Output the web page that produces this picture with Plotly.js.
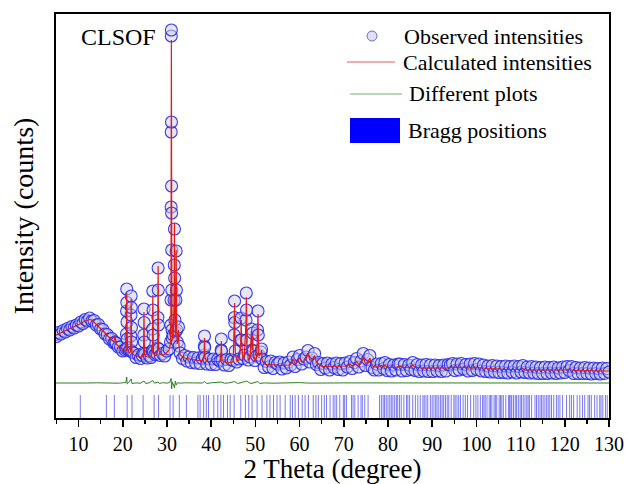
<!DOCTYPE html>
<html>
<head>
<meta charset="utf-8">
<script src="https://cdn.plot.ly/plotly-3.0.1.min.js"></script>
<style>html,body{margin:0;padding:0;background:#fff;}#chart{width:628px;height:484px;}</style>
</head>
<body>
<div id="chart"></div>
<script>
// ---- 2 theta grid shared by observed and calculated profiles ----
const twoTheta = [
  4.5,5,5.5,6,6.5,7,7.5,8,8.5,9, 9.5,10,10.5,11,11.5,12,12.5,13,13.5,14,
  14.5,15,15.5,16,16.5,17,17.5,18,18.25,18.5, 19,19.5,20,20.5,
  20.78,20.84,20.87,20.9,20.93,20.96,21.0,21.1,21.5,21.78, 21.84,21.87,21.9,21.93,21.96,22.0,22.1,
  22.5,23.0,23.5,24.0,24.4,24.7,24.75,24.8,24.84,24.88, 24.95,25.5,26.0,26.4,26.7,26.75,26.8,26.84,26.88,26.95,
  27.3,27.7,27.9,27.95,28.0,28.04,28.08,28.14,
  28.5,29.0,29.5,30.0,30.5,30.8,30.88,30.92,30.94,30.96, 30.98,31.0,31.02,31.04,31.06,31.08,31.1,31.14,31.2,31.4,
  31.6,31.66,31.7,31.74,31.8,31.9,32.02,32.08,32.14,32.2, 32.35,32.6,32.75,
  33.0,33.5,34.0,34.5,35.0,35.5,36.0,36.5,37.0,37.5, 38.0,
  38.4,38.45,38.5,38.55,38.62,39.0,39.5,40.0,40.5,41.0, 41.5,42.0,42.25,42.3,42.35,42.45,43.0,43.5,44.0,44.5, 45.0,
  45.2,45.25,45.3,45.35,45.45,45.8,46.3,46.7,46.8,46.87, 47.2,47.5,47.9,47.95,48.0,48.07,48.4,48.8,49.1,49.25,
  49.4,49.5,49.9,50.3,50.5,50.6,50.67,50.8,51.3,51.4, 51.5,
  52.0,52.5,53.0,53.5,54.0,54.5,55.0,55.5,56.0,56.5, 57.0,57.5,58.0,58.5,59.0,59.5,60.0,60.5,61.0,61.5,
  61.9,62.3,62.8,63.4,63.8,64.3,
  64.8,65.3,65.8,66.3,66.8,67.3,67.8,68.3,68.8,69.3, 69.8,70.3,70.8,71.4,71.9,72.4,72.9,73.4,73.9,74.4,
  74.9,75.4,75.9,76.4,76.9,77.4,77.9,78.5,79.0,79.3, 79.8,80.3,80.8,81.3,81.8,82.3,82.7,83.2,83.7,84.2,
  84.7,85.2,85.6,86.1,86.6,87.1,87.6,88.1,88.6,89.1, 89.6,90.1,90.6,91.1,91.6,92.1,92.6,93.1,93.6,
  94.1,94.6,95.1,95.6,96.1,96.6,97.1,97.6,98.1,98.6, 99.1,99.6,100.1,100.6,101.1,101.6,102.1,102.6,103.1,103.6,
  104.1,104.6,105.1,105.6,106.1,106.6,107.1,107.6,108.1,108.6, 109.1,109.6,110.1,110.5,111.0,111.5,112.0,112.5,113.0,113.5,
  114.0,114.5,115.0,115.5,116.0,116.5,117.0,117.5,118.0,118.5, 119.0,119.5,120.0,120.5,121.0,121.5,122.0,122.5,123.0,123.5,
  124.0,124.5,125.0,125.5,126.0,126.5,127.0,127.5,128.0,128.5, 129.0,129.5,130.0
];
const yObs = [
  1700,1670,1750,1720,1790,1760,1830,1800,1870,1840, 1900,1880,1960,1930,2010,1980,2040,1980,1990,1900,
  1910,1820,1810,1720,1710,1620,1630,1540,1560,1540, 1460,1460,1380,1400,
  1430,1720,2180,2620,2350,1960,1620,1440,1390,1400, 1680,2100,2480,2250,1850,1560,1360,
  1340,1250,1300,1230,1290,1340,1700,2220,1950,1560, 1320,1240,1290,1250,1380,1820,2580,2200,1700,1360,
  1310,1330,1440,2050,3040,2600,1900,1420,
  1290,1330,1280,1380,1420,1560,1900,2400,4260,5760, 7680,7800,5960,4680,4140,3400,2600,1800,1640,1700,
  2400,3100,3820,2840,2000,1760,2400,3380,2600,1800, 1560,1860,1480,
  1340,1230,1290,1180,1260,1150,1250,1140,1240,1130, 1230,
  1300,1480,1680,1450,1250,1120,1220,1110,1220,1110, 1210,1180,1400,1620,1380,1200,1100,1210,1090,1210, 1190,
  1700,2050,2380,1950,1380,1160,1220,1600,2040,1600, 1230,1300,2000,2540,2200,1600,1200,1260,1820,1400,
  1740,1380,1190,1280,1800,2180,1700,1300,1360,1420, 1220,
  1050,1170,1060,1180,1030,1150,1120,1160,1020,1140, 1040,1160,1100,1260,1070,1210,1290,1120,1220,1260,
  1390,1160,1240,1330,1110,1150,
  1010,1130,1040,1140,1000,1120,1050,1140,1010,1130, 1000,1140,1060,1170,1030,1150,1230,1060,1180,1330,
  1090,1210,1290,1050,1000,1120,1000,1130,1030,1150, 990,1110,980,1100,1000,1120,1120,980,1110,990,
  1100,1010,1150,990,1110,970,1100,980,1110,970, 1100,970,1100,980,1090,970,1100,980,1110,
  1100,1130,990,1120,1000,1130,1020,1110,980,1120, 990,1130,1010,1120,980,1100,970,1080,960,1090,
  960,1080,950,1070,950,1080,940,1070,960,1080, 940,1070,960,1090,950,1060,940,1070,940,1060,
  930,1050,930,1060,930,1050,940,1060,930,1040, 940,1060,950,1070,990,1070,930,1050,930,1040,
  930,1050,930,1040,920,1040,930,1030,920,1040, 930,1030,960
];
const yCalc = [
  1680,1700,1720,1740,1760,1780,1800,1820,1840,1860, 1880,1900,1930,1960,1980,2000,2010,2000,1960,1920,
  1880,1840,1790,1740,1690,1640,1600,1560,1700,1520, 1480,1440,1400,1380,
  1400,1700,2150,2540,2300,1930,1560,1400,1340,1370, 1660,2080,2420,2200,1820,1520,1340,
  1300,1280,1270,1260,1260,1320,1680,2160,1920,1540, 1300,1260,1260,1270,1360,1800,2500,2160,1680,1330,
  1290,1300,1420,2030,3080,2580,1880,1400,
  1310,1300,1310,1350,1400,1540,1880,2420,4200,5800, 7400,7600,6100,4700,4100,3350,2620,1850,1600,1650,
  2350,3150,3940,2900,2050,1700,2380,3400,2550,1780, 1520,1800,1450,
  1300,1270,1240,1230,1220,1210,1200,1200,1190,1190, 1180,
  1280,1460,1640,1440,1240,1180,1170,1170,1170,1160, 1160,1170,1380,1580,1370,1190,1160,1150,1150,1150, 1170,
  1680,2020,2340,1900,1360,1180,1200,1560,2000,1580, 1200,1280,1960,2460,2180,1560,1190,1240,1780,1400,
  1700,1360,1180,1260,1760,2120,1680,1280,1340,1400, 1210,
  1120,1110,1110,1110,1100,1100,1100,1090,1090,1090, 1090,1100,1110,1220,1120,1150,1250,1160,1170,1230,
  1340,1200,1200,1290,1160,1110,
  1080,1070,1070,1070,1070,1070,1070,1080,1070,1070, 1070,1070,1080,1120,1080,1100,1180,1100,1130,1260,
  1130,1150,1240,1090,1060,1060,1060,1090,1070,1100, 1050,1050,1050,1050,1050,1060,1080,1050,1050,1050,
  1050,1060,1100,1050,1050,1040,1040,1040,1040,1040, 1040,1040,1040,1040,1040,1030,1030,1030,1040,
  1050,1060,1050,1060,1050,1060,1050,1060,1040,1050, 1040,1060,1050,1050,1040,1040,1030,1030,1020,1020,
  1020,1020,1020,1020,1010,1010,1010,1010,1010,1010, 1000,1000,1010,1030,1000,1000,1000,1000,1000,1000,
  990,990,990,990,990,990,990,990,990,990, 990,990,1000,1010,1020,1000,990,990,990,990,
  980,980,980,980,980,980,980,980,980,980, 980,980,980
];

// ---- difference curve (obs - calc, shifted) ----
const diffTheta = [
  4.5,6,8,10,12,14,16,18,19,20, 20.7,20.9,21.0,21.3,21.9,22.1,23,24,24.8,25.2,
  26,26.8,27.2,28.0,28.3,29,30,30.6,30.95,31.05, 31.2,31.5,31.7,31.9,32.1,32.4,33,34,35,36,
  38,38.5,39,40,42.3,43,44,45.3,46,47, 48,49,50,50.6,51,52,54,56,58,60,
  62,64,66,70,75,80,90,100,110,120, 130
];
const yDiff = [
  740,738,742,736,740,744,738,742,736,744, 750,860,720,744,820,730,742,736,780,730,
  744,790,736,760,730,746,738,750,830,620, 760,700,640,780,700,746,736,744,738,742,
  740,770,730,744,760,736,742,770,730,752, 780,728,750,770,730,742,736,744,740,748,
  738,744,740,742,740,738,740,742,740,741, 740
];

// ---- Bragg reflection positions (2 theta) ----
const braggPos = [
  10.4,16.3,18.1,21.0,22.1,24.6,27.1,28.1,30.7,31.4,32.8,34.4,37.0,37.5,38.3,38.9,39.4,40.6,41.5,42.2,
  42.8,43.7,44.3,45.2,46.7,47.75,48.5,49.25,50.4,51.5,52.6,53.3,54.1,54.9,55.6,56.75,57.9,58.4,59.0,59.75,
  60.6,61.25,62.0,63.1,63.7,64.25,65.0,65.6,66.1,66.9,67.6,68.0,68.4,69.1,69.9,70.2,70.6,71.75,72.1,72.5,
  73.25,73.9,74.2,74.75,75.5,78.1,78.5,78.9,79.2,79.6,80.0,80.4,80.75,81.1,81.5,81.9,82.2,82.6,83.0,83.6,
  84.2,84.5,84.9,85.6,86.2,86.75,87.3,87.9,88.2,88.6,89.0,89.6,90.0,90.4,90.8,91.1,91.5,91.9,92.25,92.6,
  93.0,93.4,93.75,94.3,94.9,95.2,95.6,96.0,96.4,97.0,97.5,98.0,98.7,99.4,99.9,100.35,100.9,101.4,101.7,102.0,
  102.4,102.9,103.2,103.5,104.0,104.3,104.6,105.15,105.45,105.75,106.1,106.65,107.25,107.5,107.8,108.0,108.4,108.8,109.1,109.5,
  109.9,110.2,110.6,111.0,111.4,111.7,112.0,112.5,113.25,113.6,114.0,114.4,114.75,115.1,115.5,115.9,116.25,116.6,117.0,117.5,
  118.1,118.5,118.9,119.5,120.4,121.1,121.5,122.0,122.8,123.4,124.0,124.5,125.25,125.6,126.0,126.75,127.3,127.9,128.2,128.6,
  129.2,129.6
];

const FONT = 'Liberation Serif, Times New Roman, serif';
const BR_LO = 40, BR_HI = 500;

const bx = [], by = [];
braggPos.forEach(p => { bx.push(p, p, null); by.push(BR_LO, BR_HI, null); });

const traces = [
  { type:'scatter', mode:'lines', name:'Bragg positions', x:bx, y:by,
    line:{color:'rgba(50,50,235,0.65)', width:1}, hoverinfo:'skip' },
  { type:'scatter', mode:'lines', name:'Different plots', x:diffTheta, y:yDiff,
    line:{color:'rgb(40,130,30)', width:1} },
  { type:'scatter', mode:'markers', name:'Observed intensities', x:twoTheta, y:yObs,
    marker:{symbol:'circle', size:12, color:'rgba(205,205,225,0.5)',
            line:{color:'rgba(40,40,235,0.9)', width:1.1}} },
  { type:'scatter', mode:'lines', name:'Calculated intensities', x:twoTheta, y:yCalc,
    line:{color:'rgb(225,25,25)', width:1.2} }
];

function px2x(px){ return (px - 56) / 553; }
function py2y(py){ return (418 - py) / 404; }

const layout = {
  width:628, height:484,
  margin:{l:56, r:19, t:14, b:66},
  paper_bgcolor:'white', plot_bgcolor:'white',
  showlegend:false,
  font:{family:FONT, color:'black'},
  xaxis:{
    range:[4.9,130], tick0:0, dtick:10,
    ticks:'outside', ticklen:7, tickwidth:1.5, tickcolor:'black',
    minor:{dtick:5, tick0:0, ticks:'outside', ticklen:4, tickwidth:1.5, tickcolor:'black'},
    showline:true, linewidth:2, linecolor:'black', mirror:true,
    showgrid:false, zeroline:false,
    tickfont:{family:FONT, size:20, color:'black'},
    title:{text:'2 Theta (degree)', font:{family:FONT, size:27, color:'black'}, standoff:4}
  },
  yaxis:{
    range:[40,8120], showticklabels:false, ticks:'',
    showline:true, linewidth:2, linecolor:'black', mirror:true,
    showgrid:false, zeroline:false,
    title:{text:'Intensity (counts)', font:{family:FONT, size:28, color:'black'}, standoff:12}
  },
  shapes:[
    {type:'circle', xref:'paper', yref:'paper', xsizemode:'pixel', ysizemode:'pixel',
     xanchor:px2x(372), yanchor:py2y(36), x0:-5, x1:5, y0:-5, y1:5,
     line:{color:'rgba(60,60,230,0.75)', width:1}, fillcolor:'rgba(205,205,225,0.6)'},
    {type:'line', xref:'paper', yref:'paper', x0:px2x(347), x1:px2x(395), y0:py2y(62), y1:py2y(62),
     line:{color:'rgb(225,90,90)', width:1}},
    {type:'line', xref:'paper', yref:'paper', x0:px2x(350), x1:px2x(402), y0:py2y(94), y1:py2y(94),
     line:{color:'rgb(110,180,95)', width:1}},
    {type:'rect', xref:'paper', yref:'paper', x0:px2x(350), x1:px2x(400), y0:py2y(143), y1:py2y(118),
     line:{width:0}, fillcolor:'rgb(0,0,255)'}
  ],
  annotations:[
    {text:'CLSOF', xref:'paper', yref:'paper', x:px2x(118), y:py2y(37), showarrow:false,
     xanchor:'center', yanchor:'middle', font:{family:FONT, size:24, color:'black'}},
    {text:'Observed intensities', xref:'paper', yref:'paper', x:px2x(402), y:py2y(36), showarrow:false,
     xanchor:'left', yanchor:'middle', font:{family:FONT, size:22, color:'black'}},
    {text:'Calculated intensities', xref:'paper', yref:'paper', x:px2x(401), y:py2y(62), showarrow:false,
     xanchor:'left', yanchor:'middle', font:{family:FONT, size:22, color:'black'}},
    {text:'Different plots', xref:'paper', yref:'paper', x:px2x(407), y:py2y(94), showarrow:false,
     xanchor:'left', yanchor:'middle', font:{family:FONT, size:22, color:'black'}},
    {text:'Bragg positions', xref:'paper', yref:'paper', x:px2x(406), y:py2y(130), showarrow:false,
     xanchor:'left', yanchor:'middle', font:{family:FONT, size:22, color:'black'}}
  ]
};

Plotly.newPlot('chart', traces, layout, {displayModeBar:false, staticPlot:true});
</script>
</body>
</html>
